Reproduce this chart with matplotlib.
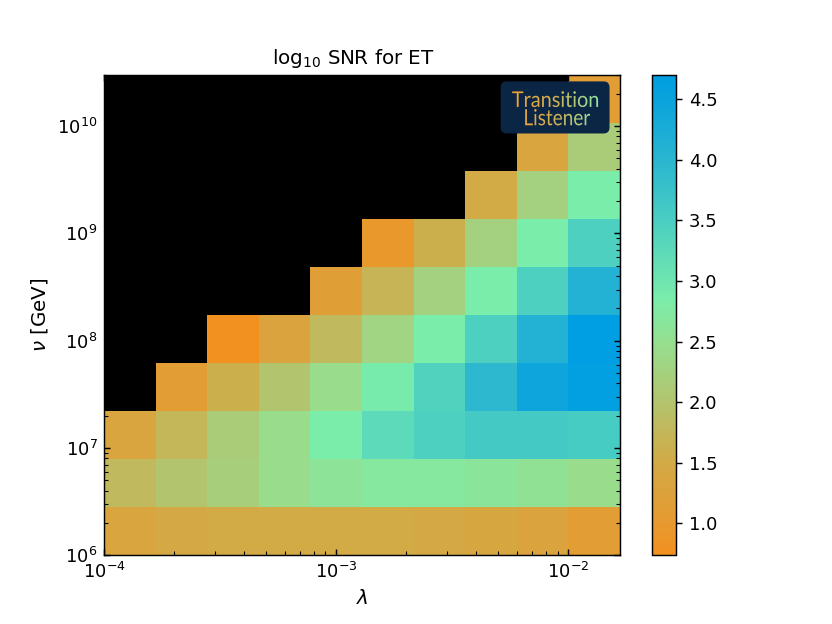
import numpy as np
import matplotlib
matplotlib.use("Agg")
import matplotlib.pyplot as plt
from matplotlib.colors import LinearSegmentedColormap, Normalize
from matplotlib.patches import FancyBboxPatch, PathPatch
from matplotlib.textpath import TextPath
from matplotlib.font_manager import FontProperties
from matplotlib.path import Path
from matplotlib.transforms import Affine2D

nan = np.nan

# grid edges (log spaced)
lam_edges = np.logspace(-4, np.log10(0.0167), 11)
v_edges = np.logspace(6, np.log10(3e10), 11)

# log10 SNR, rows = v bins (bottom to top), cols = lambda bins (left to right)
row0 = [1.35, 1.45, 1.50, 1.50, 1.50, 1.50, 1.45, 1.40, 1.30, 1.10]
row1 = [1.80, 2.00, 2.20, 2.45, 2.60, 2.70, 2.70, 2.65, 2.55, 2.45]
row2 = [1.35, 1.75, 2.15, 2.45, 2.85, 3.25, 3.45, 3.60, 3.60, 3.55]
row3 = [nan, 1.10, 1.60, 2.00, 2.45, 2.90, 3.40, 3.95, 4.45, 4.65]
row4 = [nan, nan, 0.74, 1.30, 1.80, 2.30, 2.85, 3.45, 4.10, 4.70]
row5 = [nan, nan, nan, nan, 1.15, 1.70, 2.25, 2.85, 3.45, 4.10]
row6 = [nan, nan, nan, nan, nan, 0.95, 1.60, 2.25, 2.85, 3.45]
row7 = [nan, nan, nan, nan, nan, nan, nan, 1.50, 2.25, 2.85]
row8 = [nan, nan, nan, nan, nan, nan, nan, nan, 1.35, 2.15]
row9 = [nan, nan, nan, nan, nan, nan, nan, nan, nan, 1.10]

snr = np.ma.masked_invalid(np.array([row0, row1, row2, row3, row4,
                                     row5, row6, row7, row8, row9]))

vmin, vmax = 0.736, 4.70
stops = [(0.736, "#F29020"), (1.0, "#E69A30"), (1.5, "#D2AA46"),
         (2.0, "#B3C46E"), (2.5, "#95DF90"), (2.85, "#7AEDAA"),
         (3.5, "#4ACEC2"), (4.0, "#2AB6D0"), (4.5, "#0AA3DC"),
         (4.7, "#009EE2")]
cmap = LinearSegmentedColormap.from_list(
    "tl", [((v - vmin) / (vmax - vmin), c) for v, c in stops])
cmap.set_bad("black")

fig, ax = plt.subplots(figsize=(6.4, 4.8), dpi=130)
pcm = ax.pcolormesh(lam_edges, v_edges, snr, cmap=cmap,
                    norm=Normalize(vmin, vmax))
ax.set_xscale("log")
ax.set_yscale("log")
ax.set_xlim(lam_edges[0], lam_edges[-1])
ax.set_ylim(v_edges[0], v_edges[-1])
ax.tick_params(which="both", direction="in", top=True, right=True)
ax.set_xlabel(r"$\lambda$", fontsize=11)
ax.set_ylabel(r"$\nu$ [GeV]", fontsize=11)
ax.set_title(r"$\log_{10}\,$SNR for ET", fontsize=11, x=0.483)
fig.colorbar(pcm, ax=ax)

# logo
lax = ax.inset_axes([0.768, 0.877, 0.213, 0.1105], zorder=5)
lax.set_xlim(0, 110)
lax.set_ylim(0, 53)
lax.axis("off")
lax.add_patch(FancyBboxPatch((0.5, 0.5), 109, 52,
                             boxstyle="round,pad=0,rounding_size=6",
                             fc="#0B2545", ec="none"))
fp = FontProperties(family="Lato")
cap = TextPath((0, 0), "T", size=20, prop=fp).get_extents().height
paths = []
for txt, x0, x1, base, h in [("Transition", 12, 98, 27, 15.5),
                             ("Listener", 25, 90, 8.7, 16.0)]:
    tp = TextPath((0, 0), txt, size=20, prop=fp)
    ext = tp.get_extents()
    sx = (x1 - x0) / ext.width
    sy = h / cap
    tr = Affine2D().translate(-ext.x0, 0).scale(sx, sy).translate(x0, base)
    paths.append(tr.transform_path(tp))
text_path = Path.make_compound_path(*paths)
clip = PathPatch(text_path, transform=lax.transData, fc="none", ec="none")
lax.add_patch(clip)
grad = LinearSegmentedColormap.from_list("g", ["#EE9E38", "#D2B050", "#8EE4A4"])
im = lax.imshow(np.linspace(0, 1, 200)[None, :], cmap=grad, aspect="auto",
                extent=(11, 99, 0, 53), zorder=3)
im.set_clip_path(clip)

fig.savefig("out.png", dpi=130)
